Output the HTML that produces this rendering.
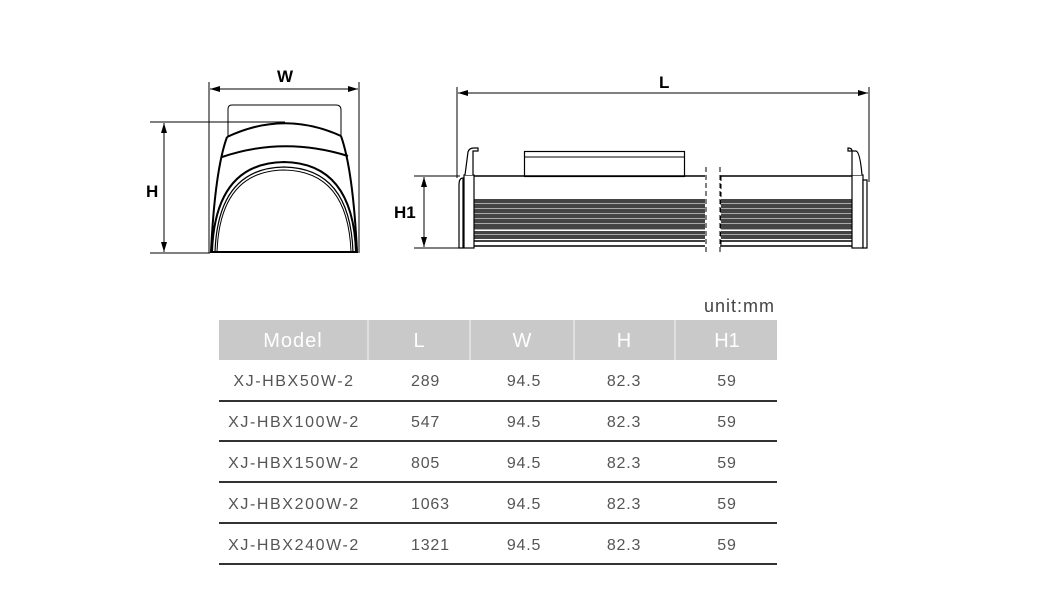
<!DOCTYPE html>
<html><head><meta charset="utf-8"><style>
html,body{margin:0;padding:0;background:#fff;width:1046px;height:600px;overflow:hidden}
svg{display:block}
text{font-family:"Liberation Sans",sans-serif}
</style></head><body>
<svg width="1046" height="600" viewBox="0 0 1046 600" xmlns="http://www.w3.org/2000/svg">
<defs>
<marker id="a" viewBox="0 0 10 6" refX="10" refY="3" markerWidth="10" markerHeight="6" orient="auto-start-reverse" markerUnits="userSpaceOnUse"><path d="M0,0 L10,3 L0,6z" fill="#000"/></marker>
</defs>
<g stroke="#000" fill="none">
<line x1="209" y1="82" x2="209" y2="253" stroke-width="1"/>
<line x1="359" y1="82" x2="359" y2="253" stroke-width="1"/>
<line x1="210" y1="89" x2="358" y2="89" stroke-width="1" marker-start="url(#a)" marker-end="url(#a)"/>
<line x1="150" y1="122" x2="285" y2="122" stroke-width="1"/>
<line x1="150" y1="253" x2="210" y2="253" stroke-width="1"/>
<line x1="164" y1="123" x2="164" y2="252" stroke-width="1" marker-start="url(#a)" marker-end="url(#a)"/>
<path d="M228,136 V109 Q228,105 232,105 H336 Q341,105 341,110 V136" stroke-width="1"/>
<path d="M227,137 Q284,110 341,136" stroke-width="2"/>
<path d="M227,137 Q215,170 211,252 H357 Q353,170 341,136" stroke-width="2"/>
<path d="M222,157 Q284,136 348,156" stroke-width="2"/>
<path d="M212,252 Q215,163 284,162 Q353,163 356,252" stroke-width="2"/>
<path d="M215,252 Q218,168 284,167 Q350,168 353,252" stroke-width="1.2"/>
<path d="M217,252 Q220,171 284,170 Q348,171 351,252" stroke-width="1"/>
<line x1="457" y1="87" x2="457" y2="178" stroke-width="1"/>
<line x1="869" y1="87" x2="869" y2="182" stroke-width="1"/>
<line x1="458" y1="93" x2="868" y2="93" stroke-width="1" marker-start="url(#a)" marker-end="url(#a)"/>
<line x1="414" y1="176" x2="460" y2="176" stroke-width="1"/>
<line x1="414" y1="248" x2="460" y2="248" stroke-width="1"/>
<line x1="424" y1="177" x2="424" y2="247" stroke-width="1" marker-start="url(#a)" marker-end="url(#a)"/>
<rect x="524.5" y="151.5" width="160" height="25" stroke-width="1.2"/>
<line x1="524" y1="157" x2="684" y2="157" stroke-width="1"/>
<path d="M474,176 H705 M720,176 H852 M474,246 H705 M720,246 H852 M474,241 H705 M720,241 H852" stroke-width="1.5"/>
<line x1="721" y1="176" x2="721" y2="247" stroke-width="1" stroke-dasharray="5,3"/>
<line x1="706" y1="167" x2="706" y2="253" stroke-width="1" stroke-dasharray="5,3"/>
<line x1="720" y1="167" x2="720" y2="253" stroke-width="1" stroke-dasharray="5,3"/>
</g>
<g fill="#444">
<rect x="474" y="199" width="231" height="30"/><rect x="721" y="199" width="131" height="30"/>
<rect x="474" y="231" width="231" height="8"/><rect x="721" y="231" width="131" height="8"/>
</g>
<g stroke="#aaa" stroke-width="1">
<path d="M474,203.5 H705 M721,203.5 H852 M474,208.5 H705 M721,208.5 H852 M474,213.5 H705 M721,213.5 H852 M474,218.5 H705 M721,218.5 H852 M474,223.5 H705 M721,223.5 H852 M474,229.5 H705 M721,229.5 H852 M474,234.5 H705 M721,234.5 H852"/>
</g>
<g stroke="#000" fill="#fff" stroke-width="1.2">
<rect x="464" y="175" width="10" height="73"/>
<path d="M459,248 V185 Q459,178 463,178 V248z"/>
<path d="M465,175 L468,152 Q469,148 474,148 H478 V151 H473 L473,175"/>
<rect x="852" y="175" width="11" height="73"/>
<path d="M863,180 H867 V248 H863z"/>
<path d="M852,175 V151 Q852,148 848,148 V151 H856 Q860,152 862,175"/>
</g>
<g font-size="17" font-weight="bold" fill="#000">
<text x="277" y="82">W</text>
<text x="146" y="197">H</text>
<text x="659" y="88">L</text>
<text x="394" y="218">H1</text>
</g>
<text x="775" y="312" font-size="18" fill="#444" text-anchor="end" letter-spacing="1">unit:mm</text>
<rect x="219" y="320" width="558" height="40" fill="#c9c9c9"/>
<g stroke="#e6e6e6" stroke-width="1.5"><line x1="368" y1="320" x2="368" y2="360"/><line x1="470" y1="320" x2="470" y2="360"/><line x1="574" y1="320" x2="574" y2="360"/><line x1="675" y1="320" x2="675" y2="360"/></g>
<g font-size="20" fill="#fff" text-anchor="middle">
<text x="293" y="347" letter-spacing="1">Model</text><text x="419" y="347">L</text><text x="522" y="347">W</text><text x="624" y="347">H</text><text x="727" y="347">H1</text>
</g>
<g stroke="#333" stroke-width="2"><line x1="219" y1="401" x2="777" y2="401"/><line x1="219" y1="441" x2="777" y2="441"/><line x1="219" y1="482" x2="777" y2="482"/><line x1="219" y1="523" x2="777" y2="523"/><line x1="219" y1="564" x2="777" y2="564"/></g>
<g font-size="16" fill="#555">
<g text-anchor="middle" letter-spacing="1.6">
<text x="294" y="386">XJ-HBX50W-2</text><text x="294" y="427">XJ-HBX100W-2</text><text x="294" y="468">XJ-HBX150W-2</text><text x="294" y="509">XJ-HBX200W-2</text><text x="294" y="550">XJ-HBX240W-2</text>
</g>
<g letter-spacing="0.8">
<text x="411" y="386">289</text><text x="411" y="427">547</text><text x="411" y="468">805</text><text x="411" y="509">1063</text><text x="411" y="550">1321</text>
</g>
<g text-anchor="middle" letter-spacing="0.8">
<text x="524" y="386">94.5</text><text x="524" y="427">94.5</text><text x="524" y="468">94.5</text><text x="524" y="509">94.5</text><text x="524" y="550">94.5</text>
<text x="624" y="386">82.3</text><text x="624" y="427">82.3</text><text x="624" y="468">82.3</text><text x="624" y="509">82.3</text><text x="624" y="550">82.3</text>
<text x="727" y="386">59</text><text x="727" y="427">59</text><text x="727" y="468">59</text><text x="727" y="509">59</text><text x="727" y="550">59</text>
</g>
</g>
</svg>
</body></html>
